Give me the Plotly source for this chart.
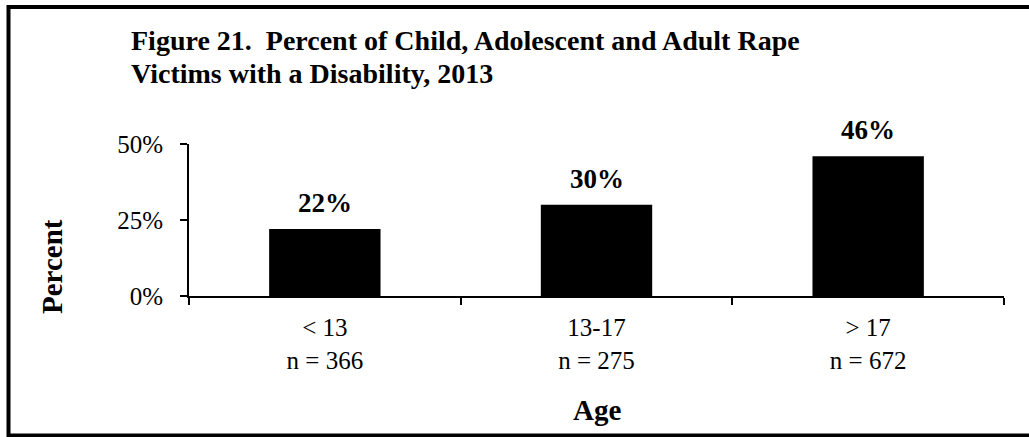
import plotly.graph_objects as go

categories = ["< 13", "13-17", "> 17"]
sample_sizes = ["n = 366", "n = 275", "n = 672"]
percent_values = [22, 30, 46]
value_labels = ["22%", "30%", "46%"]
y_tick_values = [0, 25, 50]
y_tick_labels = ["0%", "25%", "50%"]
title_line1 = "Figure 21.  Percent of Child, Adolescent and Adult Rape"
title_line2 = "Victims with a Disability, 2013"

SERIF = "Liberation Serif, Times New Roman, serif"

tick_text = [f"{c}<br>{n}" for c, n in zip(categories, sample_sizes)]

fig = go.Figure()
fig.add_trace(go.Bar(
    x=categories,
    y=percent_values,
    marker=dict(color="black", line=dict(width=0)),
    width=0.41,
    hoverinfo="skip",
))

for c, v, lab in zip(categories, percent_values, value_labels):
    fig.add_annotation(
        x=c, y=v, text=f"<b>{lab}</b>", showarrow=False,
        xref="x", yref="y", yanchor="bottom", yshift=9,
        font=dict(family=SERIF, size=27, color="black"),
    )

W, H = 1029, 437
L, R, T, B = 189, 25, 144, 141
pw, ph = W - L - R, H - T - B

fig.update_layout(
    width=W, height=H,
    margin=dict(l=L, r=R, t=T, b=B, autoexpand=False),
    paper_bgcolor="white", plot_bgcolor="white",
    showlegend=False,
    font=dict(family=SERIF, color="black"),
    bargap=0.59,
)

# title lines
fig.add_annotation(
    text=f"<b>{title_line1}</b>", showarrow=False,
    xref="paper", yref="paper",
    x=(129 - L) / pw, y=(H - B - 40) / ph,
    xanchor="left", yanchor="middle",
    font=dict(family=SERIF, size=28, color="black"),
)
fig.add_annotation(
    text=f"<b>{title_line2}</b>", showarrow=False,
    xref="paper", yref="paper",
    x=(129 - L) / pw, y=(H - B - 73) / ph,
    xanchor="left", yanchor="middle",
    font=dict(family=SERIF, size=28, color="black"),
)

fig.update_xaxes(
    type="category",
    tickmode="array", tickvals=categories, ticktext=tick_text,
    tickson="boundaries", ticks="outside", ticklen=7, tickwidth=2, tickcolor="black",
    showline=True, linecolor="black", linewidth=2,
    showgrid=False, zeroline=False,
    tickfont=dict(family=SERIF, size=25, color="black"),
    ticklabelstandoff=8,
    fixedrange=True,
)
fig.update_yaxes(
    range=[0, 50],
    tickmode="array", tickvals=y_tick_values, ticktext=y_tick_labels,
    ticks="outside", ticklen=7, tickwidth=2, tickcolor="black",
    showline=True, linecolor="black", linewidth=2,
    showgrid=False, zeroline=False,
    tickfont=dict(family=SERIF, size=25, color="black"),
    ticklabelstandoff=12,
    fixedrange=True,
)

fig.add_annotation(
    text="<b>Percent</b>", showarrow=False, textangle=-90,
    xref="paper", yref="paper",
    x=(52 - L) / pw, y=(H - B - 267) / ph,
    xanchor="center", yanchor="middle",
    font=dict(family=SERIF, size=29, color="black"),
)
fig.add_annotation(
    text="<b>Age</b>", showarrow=False,
    xref="paper", yref="paper",
    x=0.5, y=(H - B - 410) / ph,
    xanchor="center", yanchor="middle",
    font=dict(family=SERIF, size=29, color="black"),
)

# outer chart border (right edge lies outside the visible area)
fig.add_shape(
    type="rect", xref="paper", yref="paper",
    x0=(8.5 - L) / pw, x1=(1040 - L) / pw,
    y0=(H - B - 435.5) / ph, y1=(H - B - 7) / ph,
    line=dict(color="black", width=4), fillcolor="rgba(0,0,0,0)",
    layer="below",
)

fig.write_html(
    "out.html",
    config={"displayModeBar": False},
    post_script="document.body.style.margin='0px';",
)
